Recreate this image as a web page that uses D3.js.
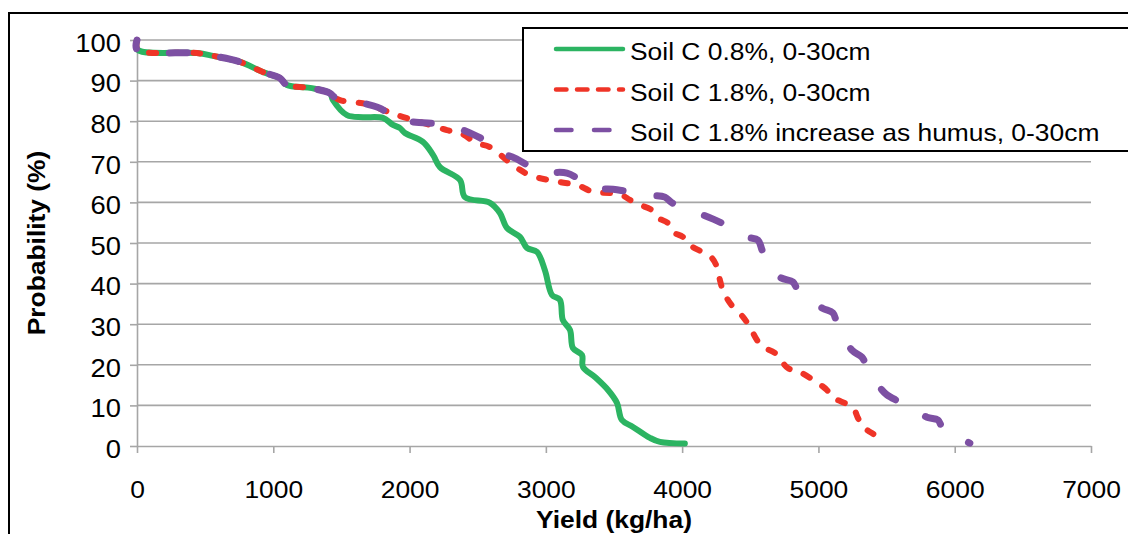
<!DOCTYPE html>
<html>
<head>
<meta charset="utf-8">
<script src="https://cdn.jsdelivr.net/npm/d3@7"></script>
<style>
  body { margin: 0; background: #fff; }
  text { font-family: "Liberation Sans", Arial, sans-serif; fill: #000; }
</style>
</head>
<body>
<div id="plot"></div>
<script>
// Yield exceedance curves, each point is [yield (kg/ha), probability (%)]
const soilC08 = [
  [0, 100], [5, 97.6], [440, 96.8], [558, 96.1], [756, 94.6], [924, 92.1], [1049, 90.6],
  [1100, 88.9], [1269, 88.2], [1416, 86.9], [1438, 85.2], [1541, 81.5], [1658, 81.0],
  [1805, 80.8], [1878, 79.1], [1930, 78.3], [1966, 77.1], [2098, 74.9], [2172, 71.7],
  [2223, 68.7], [2370, 65.5], [2406, 61.3], [2590, 59.9], [2663, 57.4], [2715, 53.7],
  [2810, 51.5], [2861, 48.8], [2935, 47.8], [2993, 43.3], [3045, 37.2], [3103, 36.0],
  [3125, 31.0], [3177, 28.6], [3199, 24.1], [3265, 22.4], [3272, 19.5], [3360, 17.0],
  [3456, 13.8], [3522, 10.6], [3558, 6.4], [3639, 4.7], [3764, 2.0], [3837, 1.0], [4020, 0.6]
];

const soilC18 = [
  [0, 100], [5, 97.6], [440, 96.8], [558, 96.1], [756, 94.6], [924, 92.1], [1049, 90.6],
  [1100, 88.9], [1269, 88.2], [1416, 86.9], [1438, 86.2], [1489, 85.2], [1687, 84.2],
  [1805, 82.8], [1908, 81.5], [2098, 79.6], [2274, 77.8], [2370, 77.1], [2494, 74.6],
  [2590, 73.6], [2759, 69.2], [2883, 66.7], [3103, 65.0], [3228, 64.3], [3346, 62.6],
  [3470, 62.3], [3558, 61.8], [3617, 60.6], [3690, 59.4], [3778, 58.1], [3822, 56.2],
  [3896, 54.9], [3932, 52.7], [4006, 51.5], [4057, 49.5], [4145, 47.8], [4219, 46.3],
  [4255, 44.1], [4277, 40.9], [4299, 38.4], [4351, 35.2], [4446, 31.8], [4497, 29.3],
  [4549, 26.1], [4593, 24.4], [4681, 22.9], [4776, 19.2], [4864, 18.2], [4996, 15.5],
  [5062, 13.8], [5099, 12.1], [5253, 9.4], [5290, 6.9], [5326, 4.7], [5392, 3.2], [5466, 1.5]
];

const soilC18Humus = [
  [0, 100], [0.5, 97.6], [440, 96.8], [558, 96.1], [756, 94.6], [924, 92.1], [1049, 90.6],
  [1100, 88.9], [1269, 88.2], [1416, 86.9], [1438, 86.2], [1489, 85.2], [1687, 84.2],
  [1805, 82.8], [1856, 80.8], [2025, 79.8], [2274, 79.1], [2392, 77.8], [2443, 77.1],
  [2641, 73.6], [2678, 72.2], [2773, 70.9], [2971, 67.5], [3155, 67.2], [3346, 63.8],
  [3522, 63.1], [3749, 61.8], [3874, 61.3], [3925, 59.9], [4116, 57.4], [4292, 54.9],
  [4475, 51.5], [4556, 50.7], [4593, 47.8], [4717, 41.6], [4813, 40.4], [4850, 38.4],
  [5026, 34.0], [5106, 32.8], [5136, 30.3], [5246, 23.6], [5319, 21.9], [5356, 19.5],
  [5466, 13.8], [5503, 12.6], [5598, 10.8], [5796, 7.1], [5877, 6.4], [5913, 4.4], [6111, 0.7]
];

const seriesNames = [
  "Soil C 0.8%, 0-30cm",
  "Soil C 1.8%, 0-30cm",
  "Soil C 1.8% increase as humus, 0-30cm"
];

const xTicks = [0, 1000, 2000, 3000, 4000, 5000, 6000, 7000];
const yTicks = [0, 10, 20, 30, 40, 50, 60, 70, 80, 90, 100];

// Styles (kept apart from the data)
const colors = ["#2cb462", "#ef3427", "#7d50a3"];
const plotDashes = [null, "7,15", "18,34"];
const plotWidths = [6, 6, 7];
const legendDashes = [null, "10.5,10.5", "15.5,22.5"];
const stretch = "scale(1.1,1)";   // reference text is slightly wide

const width = 1128, height = 534;
const plotLeft = 137, plotRight = 1091, plotTop = 40, plotBottom = 446;

const svg = d3.select("#plot")
    .append("svg")
    .attr("width", width)
    .attr("height", height);

svg.append("rect")
    .attr("width", width).attr("height", height)
    .attr("fill", "#fff");

// Outer chart border (runs off the page on the right and bottom)
svg.append("rect")
    .attr("x", 9).attr("y", 13)
    .attr("width", 1300).attr("height", 700)
    .attr("fill", "none")
    .attr("stroke", "#000")
    .attr("stroke-width", 2);

const x = d3.scaleLinear().domain([0, 7000]).range([plotLeft, plotRight]);
const y = d3.scaleLinear().domain([0, 100]).range([plotBottom, plotTop]);

// Horizontal grid lines
svg.append("g")
    .selectAll("line")
    .data(yTicks.filter(d => d > 0))
    .enter()
    .append("line")
    .attr("x1", plotLeft).attr("x2", plotRight)
    .attr("y1", d => y(d)).attr("y2", d => y(d))
    .attr("stroke", "#a6a6a6")
    .attr("stroke-width", 1.6);

// Y axis
const yAxis = svg.append("g")
    .attr("transform", `translate(${plotLeft},0)`)
    .call(d3.axisLeft(y).tickValues(yTicks).tickSize(7).tickSizeOuter(0));
yAxis.selectAll("text")
    .attr("x", 0)
    .attr("dy", "0.45em")
    .attr("transform", "translate(-16,0) scale(1.14,1.04)")
    .style("font-size", "24px");

// X axis
const xAxis = svg.append("g")
    .attr("transform", `translate(0,${plotBottom})`)
    .call(d3.axisBottom(x).tickValues(xTicks).tickFormat(d3.format("d"))
        .tickSize(7).tickSizeOuter(0).tickPadding(28));
xAxis.selectAll("text")
    .attr("transform", stretch)
    .style("font-size", "24px");

[yAxis, xAxis].forEach(ax => {
    ax.select(".domain").attr("stroke", "#a6a6a6").attr("stroke-width", 1.6);
    ax.selectAll(".tick line").attr("stroke", "#a6a6a6").attr("stroke-width", 1.6);
    ax.attr("font-family", null);
});

// Axis titles
svg.append("text")
    .attr("transform", `translate(${(plotLeft + plotRight) / 2},528) ${stretch}`)
    .attr("text-anchor", "middle")
    .style("font-size", "24px")
    .style("font-weight", "bold")
    .text("Yield (kg/ha)");

svg.append("text")
    .attr("transform", `translate(45,${(plotTop + plotBottom) / 2}) rotate(-90) ${stretch}`)
    .attr("text-anchor", "middle")
    .style("font-size", "24px")
    .style("font-weight", "bold")
    .text("Probability (%)");

// Curves
const series = [soilC08, soilC18, soilC18Humus];
const line = d3.line()
    .curve(d3.curveCatmullRom.alpha(0.5))
    .x(d => x(d[0]))
    .y(d => y(d[1]));

const paths = svg.append("g")
    .selectAll("path")
    .data(series)
    .enter()
    .append("path")
    .attr("d", line)
    .attr("fill", "none")
    .attr("stroke", (d, i) => colors[i])
    .attr("stroke-width", (d, i) => plotWidths[i])
    .attr("stroke-dasharray", (d, i) => plotDashes[i])
    .attr("stroke-linecap", "round")
    .attr("stroke-linejoin", "round");

// Shift the long-dash pattern so the humus curve ends on a short dash, as in the reference
paths.filter((d, i) => i === 2)
    .attr("stroke-dashoffset", function () {
        const len = this.getTotalLength();
        return ((3 - len) % 52 + 52) % 52;
    });

// Legend box (also runs off the right edge)
const legend = svg.append("g");
legend.append("rect")
    .attr("x", 523).attr("y", 28)
    .attr("width", 700).attr("height", 123)
    .attr("fill", "#fff")
    .attr("stroke", "#000")
    .attr("stroke-width", 2);

const legendY = d3.scalePoint().domain(seriesNames).range([49, 130]);

legend.selectAll("line")
    .data(seriesNames)
    .enter()
    .append("line")
    .attr("x1", 556).attr("x2", 623)
    .attr("y1", d => legendY(d)).attr("y2", d => legendY(d))
    .attr("stroke", (d, i) => colors[i])
    .attr("stroke-width", 4.5)
    .attr("stroke-dasharray", (d, i) => legendDashes[i])
    .attr("stroke-linecap", "round");

legend.selectAll("text")
    .data(seriesNames)
    .enter()
    .append("text")
    .attr("transform", d => `translate(630,${legendY(d) + 11}) ${stretch}`)
    .style("font-size", "24px")
    .text(d => d);
</script>
</body>
</html>
